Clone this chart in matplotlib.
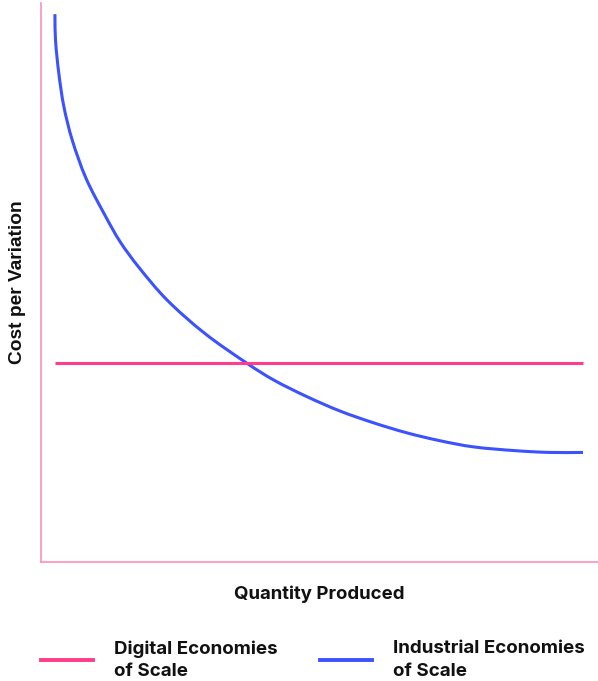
import numpy as np
import matplotlib.pyplot as plt
from matplotlib.path import Path
from matplotlib.patches import PathPatch
from matplotlib.lines import Line2D

# Curves (arbitrary units, 0-100 on both axes)
quantity = [2.5, 2.6, 3.2, 4.1, 5.6, 8.1, 11.5, 14.2, 17.5, 22.6, 29.4, 36.9,
            41.7, 47.7, 53.7, 59.7, 65.7, 71.6, 77.6, 85.4, 91.4, 97.3]
industrial_cost = [98.0, 93.4, 87.4, 81.5, 75.5, 68.6, 62.0, 57.3, 52.8, 46.9, 40.9, 35.6,
                   32.6, 29.6, 27.0, 24.9, 23.1, 21.7, 20.6, 19.9, 19.6, 19.6]
digital_x = [2.5, 97.3]
digital_cost = [35.6, 35.6]

labels = ["Digital Economies\nof Scale", "Industrial Economies\nof Scale"]

pink = "#FF3D8A"
spine_pink = "#FF8FBA"
blue = "#3D52FF"


def smooth_path(xs, ys):
    # cubic Bezier through the read points (tangents from neighbours)
    p = np.column_stack([xs, ys]).astype(float)
    n = len(p)
    tang = np.zeros_like(p)
    for i in range(n):
        a = p[max(i - 1, 0)]
        b = p[min(i + 1, n - 1)]
        d = b - a
        tang[i] = d / np.hypot(*d)
    verts = [p[0]]
    codes = [Path.MOVETO]
    for i in range(n - 1):
        seg = np.hypot(*(p[i + 1] - p[i]))
        verts += [p[i] + tang[i] * seg / 3, p[i + 1] - tang[i + 1] * seg / 3, p[i + 1]]
        codes += [Path.CURVE4] * 3
    return Path(verts, codes)


fig = plt.figure(figsize=(5.98, 6.81), dpi=100)
ax = fig.add_axes([41 / 598, 1 - 562 / 681, 1 - 41 / 598, 559 / 681])

ax.plot(digital_x, digital_cost, color=pink, lw=2.2, solid_capstyle="butt")
ax.add_patch(PathPatch(smooth_path(quantity, industrial_cost), fill=False,
                       edgecolor=blue, lw=2.2, capstyle="butt"))

ax.set_xlim(0, 100)
ax.set_ylim(0, 100)
ax.set_xticks([])
ax.set_yticks([])
for s in ["top", "right"]:
    ax.spines[s].set_visible(False)
for s in ["left", "bottom"]:
    ax.spines[s].set_color(spine_pink)
    ax.spines[s].set_linewidth(1.2)

ax.set_xlabel("Quantity Produced", family="Inter", fontweight="bold",
              fontsize=13.4, labelpad=17, color="#111111")
ax.set_ylabel("Cost per Variation", family="Liberation Sans", fontweight="bold",
              fontsize=13.8, labelpad=11, color="#111111")

handles = [Line2D([], [], color=pink, lw=2.8), Line2D([], [], color=blue, lw=2.8)]
leg = fig.legend(handles, labels, loc="upper left",
                 bbox_to_anchor=(41 / 598, 1 - 640 / 681), ncol=2,
                 frameon=False, borderpad=0, borderaxespad=0,
                 handlelength=2.78, handletextpad=1.12, columnspacing=2.26,
                 prop={"family": "Inter", "weight": "bold", "size": 13.5})
for t in leg.get_texts():
    t.set_color("#111111")
    t.set_linespacing(1.45)

fig.savefig("out.png", dpi=100)
